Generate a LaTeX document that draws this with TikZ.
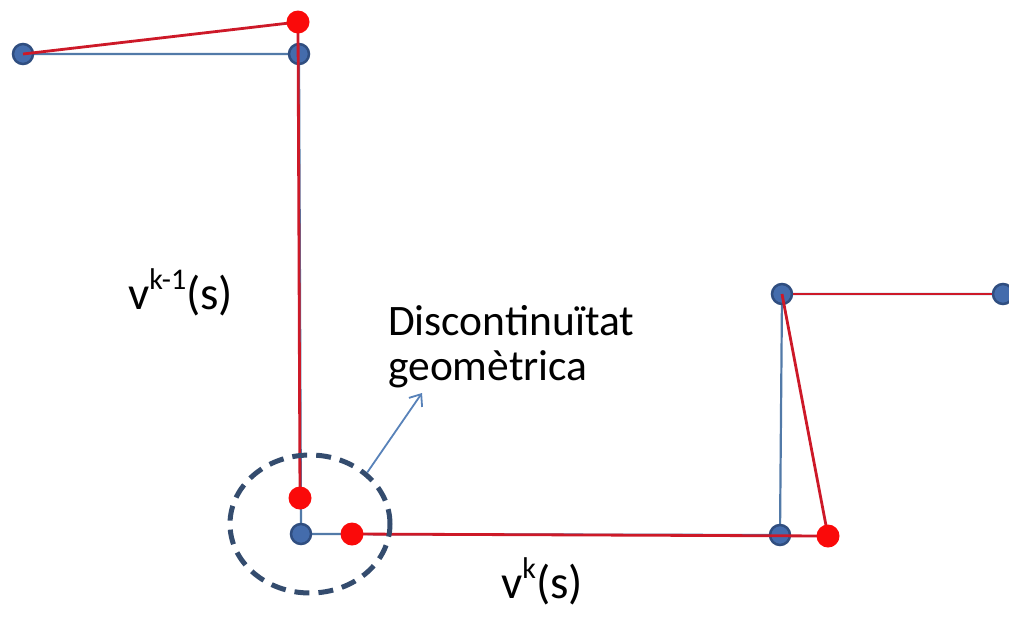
\documentclass[tikz,border=0pt]{standalone}
\usepackage{fontspec}
\setmainfont{Carlito}
\usetikzlibrary{shapes.geometric,arrows.meta}
\definecolor{bfill}{RGB}{68,108,172}
\definecolor{bdraw}{RGB}{48,78,128}
\definecolor{bline}{RGB}{82,122,168}
\definecolor{rline}{RGB}{205,25,40}
\definecolor{rfill}{RGB}{250,10,10}
\definecolor{dashc}{RGB}{52,76,110}
\definecolor{arrc}{RGB}{88,130,185}
\newcommand{\supr}[2]{\raisebox{#1}{\fontsize{30}{32}\selectfont #2}}
\tikzset{
  bdot/.style={circle,fill=bfill,draw=bdraw,line width=2.5pt,minimum size=20pt,inner sep=0pt},
  rdot/.style={circle,fill=rfill,minimum size=23pt,inner sep=0pt},
  bseg/.style={draw=bline,line width=2.2pt},
  rseg/.style={draw=rline,line width=2.8pt},
  lbl/.style={inner sep=0pt,anchor=base west,font=\fontsize{47}{56}\selectfont},
  dtxt/.style={inner sep=0pt,anchor=base west,font=\fontsize{43.5}{52}\selectfont},
}
\begin{document}
\begin{tikzpicture}[x=1pt,y=-1pt]
\useasboundingbox (0,0) rectangle (1009,622);
% point coordinates
\coordinate (pb1) at (23,54);
\coordinate (pb2) at (299,54);
\coordinate (pb3) at (301,534);
\coordinate (pb4) at (780,535);
\coordinate (pb5) at (782,294);
\coordinate (pb6) at (1003,294);
\coordinate (pr1) at (298,22);
\coordinate (pr2) at (300,498);
\coordinate (pr3) at (352,534);
\coordinate (pr4) at (828,536);
% blue polyline
\draw[bseg] (pb1) -- (pb2) -- (pb3) -- (pb4) -- (pb5) -- (pb6);
% blue points
\node[bdot] (b1) at (pb1) {};
\node[bdot] (b2) at (pb2) {};
\node[bdot] (b3) at (pb3) {};
\node[bdot] (b4) at (pb4) {};
\node[bdot] (b5) at (pb5) {};
\node[bdot] (b6) at (pb6) {};
% red polyline
\draw[rseg] (b1.center) -- (pr1) -- (pr2);
\draw[rseg] (pr3) -- (pr4) -- (b5.center);
\draw[rseg] (b5.east) -- (b6.west);
% red points
\node[rdot] (r1) at (pr1) {};
\node[rdot] (r2) at (pr2) {};
\node[rdot] (r3) at (pr3) {};
\node[rdot] (r4) at (pr4) {};
% dashed ellipse
\node[ellipse,draw=dashc,line width=5pt,dash pattern=on 15pt off 9pt,
      minimum width=160pt,minimum height=138pt,inner sep=0pt] (circ) at (310,524) {};
\coordinate (tip) at (422,393);
\draw[draw=arrc,line width=1.8pt,-{Straight Barb[length=10pt,width=16pt,line width=1.8pt]}] (circ.42) -- (tip);
% labels
\node[lbl] (lk1) at (128,309) {v\supr{20pt}{k-1}(s)};
\node[lbl] (lk) at (501,598) {v\supr{20pt}{k}(s)};
\node[dtxt] (d1) at (388,335) {Discontinuïtat};
\node[dtxt] (d2) at (388,380) {geomètrica};
\end{tikzpicture}
\end{document}
